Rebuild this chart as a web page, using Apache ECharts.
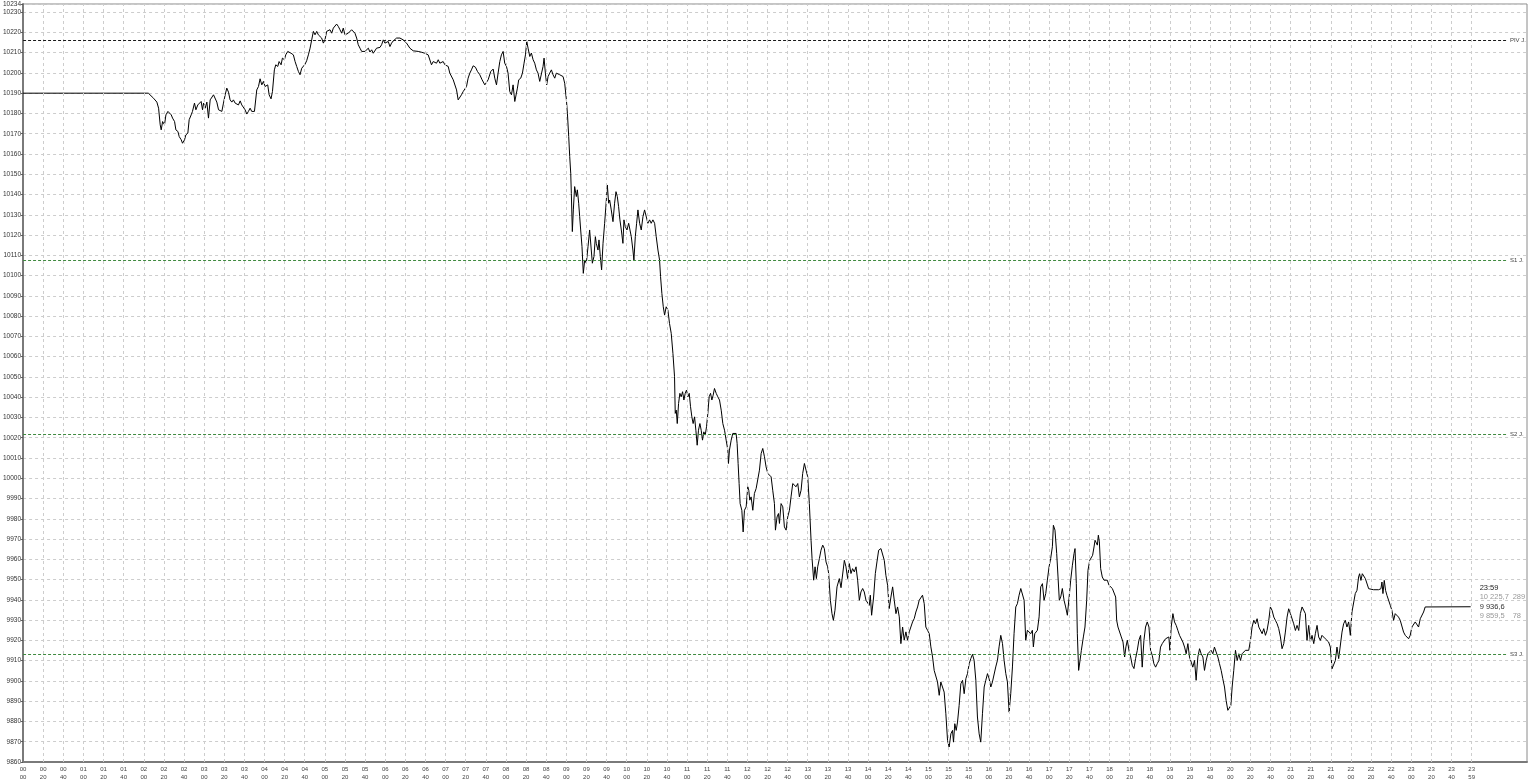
<!DOCTYPE html>
<html>
<head>
<meta charset="utf-8">
<script src="https://cdn.jsdelivr.net/npm/echarts@6/dist/echarts.min.js"></script>
<style>
html,body{margin:0;padding:0;background:#fff;}
#c{width:1530px;height:782px;}
</style>
</head>
<body>
<div id="c"></div>
<script>
// time of day in minutes after 00:00
const minutes = [
0,124.5,126.4,129.7,131.4,133.0,134.7,136.3,137.3,138.7,
140.6,142.0,144.0,145.3,147.3,148.6,150.6,151.9,153.9,155.2,
157.2,158.5,160.5,161.8,163.8,165.1,167.1,168.4,170.4,171.8,
173.7,175.1,177.0,178.4,179.4,181.0,182.7,184.3,186.0,187.6,
189.3,191.0,192.6,194.3,195.9,197.6,199.2,200.9,202.5,204.2,
205.8,207.5,209.1,210.8,212.5,214.1,215.8,217.4,219.1,220.7,
222.4,224.0,225.7,227.3,230.0,232.3,234.0,235.6,237.3,238.9,
240.6,243.2,244.6,246.5,247.9,249.8,251.2,253.2,254.5,256.5,
257.8,259.8,261.1,263.1,264.4,266.4,268.7,270.4,272.0,273.7,
275.3,277.0,278.6,280.3,281.9,283.6,285.3,286.9,288.6,290.2,
291.9,293.5,295.2,296.8,298.5,300.1,301.8,303.5,305.1,306.8,
308.4,310.1,311.7,313.4,315.0,316.7,318.3,320.0,321.7,323.3,
325.0,326.6,328.3,329.9,331.6,333.2,334.9,336.6,338.2,339.9,
341.5,343.2,344.8,346.5,348.1,349.8,351.4,353.1,354.8,356.4,
358.1,359.7,361.4,363.0,364.7,366.3,368.0,369.6,371.3,372.9,
374.6,376.3,377.9,379.6,381.2,382.9,384.5,386.2,387.8,389.5,
392.8,396.1,399.4,401.1,402.7,404.4,406.0,407.7,409.3,411.0,
412.7,414.3,416.0,417.6,419.3,420.9,422.6,424.2,425.9,427.6,
429.2,430.9,432.5,434.2,435.8,437.5,439.1,440.8,442.4,444.1,
445.7,447.4,449.7,451.7,454.0,456.3,459.0,460.6,462.3,464.9,
467.3,468.9,470.6,472.2,473.9,475.5,477.2,478.8,480.5,482.1,
483.8,485.5,487.1,488.8,489.8,491.4,492.7,494.7,496.4,498.0,
499.4,500.7,502.0,503.7,505.3,507.0,508.6,510.3,511.9,513.6,
515.2,516.9,517.9,519.2,520.5,521.9,523.5,525.2,526.8,528.5,
530.1,531.8,533.4,535.1,536.8,538.4,540.1,541.1,542.4,543.4,
544.4,545.0,546.0,547.0,548.3,550.0,551.0,552.3,553.3,554.3,
555.6,556.9,558.3,559.9,561.6,563.2,564.9,565.9,567.5,568.9,
569.8,571.5,572.5,573.8,575.1,576.5,578.1,579.8,580.8,582.1,
583.1,584.7,586.4,588.0,589.4,590.7,592.0,593.3,594.7,596.3,
597.3,598.6,600.3,602.0,603.3,604.6,606.2,607.2,608.6,609.9,
611.2,612.9,614.5,616.2,617.8,619.5,621.1,622.8,624.4,626.1,
627.8,629.4,631.1,632.7,633.7,635.0,636.4,637.7,639.3,641.0,
642.6,644.3,646.0,647.6,648.3,649.3,650.3,651.6,652.9,654.2,
655.6,656.9,658.2,659.5,660.9,662.2,663.5,664.8,666.1,667.5,
668.8,670.1,671.4,672.8,674.1,675.4,676.7,678.1,679.4,680.7,
682.0,683.4,684.7,686.0,687.3,689.0,690.6,692.3,694.0,695.6,
697.3,698.9,700.6,701.2,702.2,703.9,705.5,707.2,708.8,709.8,
710.8,711.8,712.8,714.5,715.8,717.1,718.8,720.4,721.4,722.4,
723.7,725.4,727.0,728.7,730.3,732.0,733.7,735.3,737.0,738.6,
740.3,741.9,743.6,745.2,746.9,747.9,749.5,750.9,751.9,753.5,
755.2,756.8,758.5,760.1,761.8,763.4,765.1,766.7,768.4,770.1,
771.7,773.4,775.0,776.7,778.3,780.0,781.6,783.3,784.3,785.9,
787.3,788.6,789.9,791.6,793.2,794.9,796.5,798.2,799.8,800.8,
802.5,804.1,805.5,807.1,809.1,811.4,813.1,814.7,816.4,818.0,
819.7,821.3,823.0,824.6,826.3,828.0,829.6,831.3,832.9,834.6,
836.2,837.9,839.5,841.2,842.2,843.5,845.5,847.2,848.8,850.5,
852.8,854.4,856.1,857.7,859.4,861.0,862.7,864.4,866.0,867.7,
869.3,871.0,872.6,874.3,875.9,877.6,879.2,880.9,882.6,884.2,
885.9,887.5,889.2,890.8,892.5,894.1,895.8,897.4,899.1,900.8,
902.4,904.1,905.7,907.4,909.0,910.7,912.3,914.0,915.6,917.3,
919.0,920.6,922.3,923.9,924.9,926.2,927.6,928.9,930.5,932.2,
933.9,935.5,937.2,938.8,940.5,942.1,943.8,945.4,947.1,948.7,
950.4,952.0,953.7,955.4,957.0,958.7,960.3,962.0,963.6,965.3,
966.9,968.6,970.2,971.9,973.6,975.2,976.9,978.5,980.2,981.8,
983.5,985.1,986.8,988.4,990.1,991.8,993.4,995.1,996.7,998.4,
1000.0,1001.7,1003.3,1004.3,1005.7,1007.0,1008.3,1010.0,1011.6,1013.3,
1014.9,1016.6,1018.2,1019.9,1021.5,1023.2,1024.2,1025.8,1027.5,1028.8,
1030.1,1031.5,1033.1,1034.8,1036.4,1038.1,1039.7,1041.4,1043.1,1044.7,
1045.7,1047.0,1048.0,1049.3,1050.7,1052.0,1054.0,1055.6,1057.3,1058.6,
1060.3,1061.9,1063.2,1064.6,1065.6,1066.6,1067.9,1068.9,1069.9,1071.2,
1072.8,1074.5,1076.2,1077.8,1079.5,1081.1,1082.8,1084.4,1086.1,1087.1,
1088.4,1090.1,1091.7,1093.4,1095.0,1096.3,1097.7,1099.3,1101.0,1102.6,
1104.3,1105.9,1107.6,1109.2,1110.9,1112.5,1114.2,1115.8,1117.5,1119.2,
1120.8,1122.5,1124.1,1125.8,1127.4,1129.1,1130.7,1132.4,1134.0,1135.7,
1137.4,1139.0,1140.0,1141.3,1143.0,1144.6,1146.3,1147.9,1149.6,1151.3,
1152.9,1154.6,1156.2,1157.9,1159.5,1161.2,1162.8,1164.5,1166.1,1167.8,
1169.5,1171.1,1172.8,1174.4,1176.1,1177.7,1179.4,1181.0,1182.7,1184.3,
1186.0,1187.7,1189.3,1191.0,1192.6,1194.3,1195.9,1197.6,1198.9,1200.6,
1201.9,1203.5,1205.2,1206.9,1208.5,1210.2,1211.8,1213.5,1215.1,1216.8,
1218.4,1220.1,1221.7,1223.4,1225.1,1226.7,1228.4,1230.0,1231.7,1233.3,
1235.0,1236.6,1238.3,1239.9,1241.6,1243.3,1244.9,1246.6,1248.2,1249.9,
1251.5,1253.2,1254.8,1256.5,1258.1,1259.8,1261.5,1263.1,1264.8,1266.4,
1268.1,1269.7,1271.4,1273.0,1274.7,1276.3,1278.0,1279.7,1281.3,1283.0,
1284.6,1286.3,1287.9,1289.6,1291.2,1292.9,1294.5,1296.2,1297.8,1299.5,
1301.2,1302.8,1304.5,1306.1,1307.8,1309.4,1311.1,1312.7,1314.4,1316.0,
1317.7,1319.4,1321.0,1322.7,1324.3,1326.0,1327.6,1328.6,1329.9,1331.3,
1332.6,1334.3,1335.9,1337.6,1342.5,1347.5,1349.8,1350.8,1351.8,1353.1,
1354.4,1355.8,1357.4,1359.1,1360.7,1362.4,1364.0,1365.7,1367.3,1369.0,
1370.7,1372.3,1374.0,1375.6,1377.3,1378.9,1380.6,1382.2,1383.9,1385.5,
1387.2,1388.9,1390.5,1392.2,1393.8,1395.5,1439
];
const prices = [
10190,10190,10189.2,10187.5,10188.4,10185.6,10182.6,10174.4,10171.9,10176.0,
10174.4,10179.3,10181.0,10181.8,10179.3,10177.7,10176.0,10171.9,10171.1,10168.6,
10167.0,10165.3,10167.0,10169.4,10170.3,10176.9,10179.3,10181.0,10185.1,10181.8,
10184.2,10183.4,10185.9,10181.8,10185.1,10182.6,10185.6,10177.7,10186.7,10185.9,
10189.2,10190.0,10185.6,10181.8,10182.6,10181.0,10185.1,10189.2,10192.5,10190.5,
10186.7,10185.6,10186.7,10185.1,10184.2,10184.2,10186.2,10184.2,10183.4,10181.8,
10179.7,10181.0,10182.6,10181.0,10181.0,10191.6,10193.3,10197.1,10194.1,10195.8,
10193.3,10194.1,10189.2,10187.2,10190.8,10201.5,10204.0,10203.2,10205.6,10204.0,
10207.3,10206.5,10208.9,10210.6,10211.4,10209.7,10208.9,10205.6,10203.2,10200.7,
10199.1,10202.3,10203.2,10204.3,10206.0,10208.9,10212.2,10216.3,10220.5,10218.8,
10220.5,10218.8,10219.6,10217.2,10214.7,10216.3,10220.5,10220.5,10221.3,10219.6,
10222.1,10222.9,10224.1,10222.9,10221.3,10219.6,10222.1,10218.8,10218.0,10219.6,
10220.5,10221.3,10221.8,10219.6,10217.2,10213.9,10212.2,10210.6,10211.4,10210.6,
10210.9,10212.2,10210.3,10211.4,10209.7,10210.6,10212.2,10211.4,10212.6,10213.9,
10216.3,10214.7,10213.9,10215.5,10213.0,10214.7,10215.8,10216.3,10217.2,10217.5,
10217.2,10216.3,10216.3,10215.5,10214.7,10213.9,10212.2,10211.4,10210.9,10210.6,
10210.6,10210.2,10209.7,10210.2,10208.9,10209.3,10204.0,10205.6,10206.5,10204.8,
10206.5,10204.8,10204.8,10205.6,10204.0,10204.8,10203.2,10199.9,10199.1,10196.6,
10195.8,10191.6,10186.7,10187.5,10189.2,10190.8,10191.1,10193.3,10197.4,10199.9,
10201.5,10203.5,10202.8,10200.7,10199.1,10196.6,10194.1,10194.9,10196.6,10200.7,
10201.9,10197.4,10194.1,10199.9,10205.6,10208.9,10210.6,10204.8,10203.2,10199.9,
10190.8,10189.2,10194.1,10185.9,10185.1,10192.5,10196.6,10197.4,10199.9,10204.8,
10208.9,10215.5,10212.2,10208.1,10209.8,10206.5,10204.8,10201.5,10199.9,10195.8,
10196.6,10203.2,10207.3,10199.9,10194.1,10198.2,10199.9,10201.5,10199.1,10197.4,
10199.9,10200.7,10199.1,10199.9,10198.2,10194.9,10186.7,10180.1,10168.6,10158.7,
10150.5,10140.6,10121.7,10132.4,10143.9,10139.0,10142.3,10135.7,10129.1,10122.5,
10114.3,10101.1,10107.7,10106.1,10114.3,10122.5,10123.3,10106.1,10109.4,10119.2,
10115.9,10112.6,10117.6,10109.4,10102.8,10115.9,10125.8,10137.3,10144.7,10135.7,
10137.3,10132.4,10126.6,10135.7,10141.4,10139.0,10134.0,10127.5,10122.5,10115.9,
10127.5,10124.2,10122.5,10125.8,10122.5,10119.2,10112.6,10107.7,10119.2,10125.8,
10132.4,10125.8,10122.5,10129.1,10132.4,10133.2,10125.8,10127.5,10125.8,10127.5,
10125.8,10119.2,10112.6,10107.7,10099.5,10091.2,10084.6,10080.5,10084.6,10083.0,
10076.4,10071.5,10061.6,10050.1,10032.0,10033.6,10027.0,10036.9,10041.9,10040.2,
10042.7,10038.6,10041.9,10043.5,10040.2,10041.9,10035.3,10030.3,10027.0,10030.3,
10023.7,10016.3,10023.7,10027.0,10023.7,10018.8,10022.9,10021.3,10025.4,10032.0,
10040.2,10041.9,10038.6,10041.0,10044.3,10041.9,10040.2,10038.6,10033.6,10027.0,
10023.7,10018.8,10013.9,10007.3,10013.9,10018.8,10022.1,10022.9,10022.1,10017.2,
10007.3,9997.4,9987.5,9984.2,9973.5,9984.2,9985.9,9995.8,9994.1,9989.2,
9990.8,9984.2,9992.5,9994.9,9995.8,10004.0,10012.2,10014.7,10010.6,10005.6,
10002.4,10003.2,10000.7,9994.1,9987.5,9974.4,9980.9,9982.6,9977.7,9987.5,
9985.9,9976.0,9974.4,9980.9,9984.2,9990.8,9997.4,9998.2,9995.8,9997.4,
9990.8,9994.1,10002.4,10007.3,10004.0,10000.7,9987.5,9969.4,9960.4,9949.7,
9956.3,9950.5,9956.3,9960.4,9964.5,9967.0,9965.3,9958.7,9956.3,9953.0,
9939.8,9933.2,9929.9,9934.9,9946.4,9950.5,9946.0,9946.0,9959.5,9956.3,
9950.5,9957.9,9953.0,9955.4,9953.8,9956.3,9949.7,9939.8,9943.9,9945.6,
9943.9,9939.8,9940.6,9937.3,9942.3,9932.4,9941.4,9953.0,9958.7,9964.5,
9965.3,9964.5,9959.5,9952.1,9947.2,9935.7,9941.4,9946.4,9939.8,9933.2,
9936.5,9931.6,9918.4,9926.6,9920.1,9924.2,9920.1,9924.2,9925.0,9929.1,
9930.8,9934.0,9936.5,9939.8,9940.6,9942.3,9938.1,9926.6,9925.0,9923.3,
9916.8,9911.8,9905.2,9904.4,9899.5,9892.9,9899.5,9900.3,9894.5,9883.8,
9870.6,9867.4,9873.9,9875.6,9869.8,9878.9,9875.6,9879.7,9887.9,9898.6,
9900.3,9893.7,9901.1,9903.6,9908.5,9911.0,9913.1,9910.2,9900.3,9882.2,
9873.9,9869.8,9883.8,9897.0,9900.3,9903.6,9901.1,9897.0,9899.5,9900.3,
9906.9,9910.2,9916.8,9922.5,9918.4,9910.2,9903.6,9899.5,9884.6,9893.7,
9906.9,9923.3,9936.5,9938.1,9942.3,9945.6,9944.7,9939.8,9920.1,9925.0,
9925.8,9923.3,9925.0,9916.8,9923.3,9924.2,9925.0,9931.6,9946.4,9948.0,
9939.8,9943.1,9949.7,9956.3,9960.4,9966.2,9976.8,9974.4,9962.8,9951.3,
9939.8,9941.4,9945.6,9939.8,9936.5,9932.4,9940.6,9949.7,9957.1,9962.8,
9965.3,9948.0,9923.3,9905.2,9910.2,9915.1,9921.7,9926.6,9939.8,9954.6,
9959.5,9958.7,9962.0,9966.1,9969.4,9969.4,9967.0,9971.9,9968.6,9955.4,
9951.3,9949.7,9950.5,9949.7,9947.2,9946.4,9945.6,9946.4,9941.4,9929.9,
9926.6,9927.4,9921.7,9919.2,9911.8,9916.8,9920.1,9915.1,9911.8,9907.7,
9906.1,9911.0,9915.1,9920.1,9922.5,9906.8,9920.0,9926.6,9929.1,9926.6,
9915.1,9912.6,9908.5,9906.8,9908.5,9910.1,9916.7,9918.4,9919.2,9920.8,
9920.0,9921.7,9915.1,9926.6,9933.2,9929.1,9927.4,9925.0,9922.5,9921.7,
9919.2,9916.7,9913.4,9918.4,9911.8,9909.3,9906.8,9910.1,9900.3,9911.8,
9915.9,9913.4,9911.8,9905.2,9910.1,9913.4,9914.3,9915.1,9913.4,9916.7,
9917.5,9911.8,9908.5,9905.2,9901.1,9897.0,9890.4,9885.5,9884.6,9887.9,
9897.0,9905.2,9915.1,9910.1,9913.4,9910.1,9913.4,9914.3,9915.1,9914.3,
9915.1,9920.0,9926.6,9929.9,9928.2,9930.7,9926.6,9927.4,9923.3,9925.8,
9922.5,9924.9,9929.9,9936.5,9934.8,9931.5,9929.9,9928.2,9925.8,9921.7,
9915.9,9918.4,9924.1,9931.5,9935.6,9933.2,9932.4,9928.2,9924.9,9927.4,
9924.9,9933.2,9936.5,9937.3,9933.2,9920.0,9927.4,9919.2,9922.5,9918.4,
9923.3,9927.4,9921.7,9920.0,9922.5,9921.7,9920.8,9921.7,9919.2,9916.7,
9906.0,9906.8,9910.1,9916.7,9911.0,9911.8,9924.1,9928.2,9929.9,9926.6,
9929.1,9922.5,9934.0,9934.8,9943.1,9944.7,9951.3,9952.9,9949.6,9952.9,
9952.1,9950.5,9949.6,9945.5,9945.0,9945.0,9945.5,9948.8,9943.1,9949.6,
9944.7,9942.2,9941.4,9937.3,9934.8,9929.9,9933.2,9932.4,9931.5,9929.9,
9929.1,9924.1,9922.5,9921.7,9920.8,9922.5,9926.6,9927.4,9929.1,9929.9,
9926.6,9930.7,9931.5,9934.0,9936.5,9936.6,9936.6
];

// pivot / support levels
const levelNames = ['PIV J.', 'S1 J.', 'S2 J.', 'S3 J.'];
const levelValues = [10216.3, 10107.7, 10021.8, 9913.1];

// axis ranges and ticks
const yMin = 9860, yMax = 10234, yStep = 10;
const xMin = 0, xMax = 1495, xStep = 20, dayEnd = 1440;
const lastLabelMinute = 1439;

// info box at the right of the last price
const infoTime = '23:59';
const infoHigh = ['10 225,7', '289'];
const infoLast = '9 936,6';
const infoLow = ['9 859,5', '78'];

const levelEnd = 1476;
const levelColors = ['#1a1a1a', '#3f8a3f', '#3f8a3f', '#3f8a3f'];

const pad2 = n => String(n).padStart(2, '0');
function fmtX(v) {
  if (v > dayEnd) return '';
  const t = v === dayEnd ? lastLabelMinute : v;
  return pad2(Math.floor(t / 60)) + '\n' + pad2(Math.round(t % 60));
}

const verticalTicks = [];
for (let m = xMin + xStep; m <= dayEnd; m += xStep) verticalTicks.push(m);

const priceData = minutes.map((m, i) => [m, prices[i]]);
const lastIdx = minutes.length - 1;

const chart = echarts.init(document.getElementById('c'));
chart.setOption({
  animation: false,
  backgroundColor: '#ffffff',
  grid: { left: 21, right: 3, top: 4, bottom: 20, show: true, borderColor: '#8a8a8a', borderWidth: 1 },
  xAxis: {
    type: 'value', min: xMin, max: xMax, interval: xStep,
    axisLine: { show: true, lineStyle: { color: '#7a7a7a', width: 2 } },
    axisTick: { show: false },
    splitLine: { show: false },
    axisLabel: {
      formatter: fmtX, fontSize: 6, lineHeight: 8, color: '#444',
      margin: 3, fontFamily: 'Liberation Sans', showMinLabel: true, showMaxLabel: true
    }
  },
  yAxis: {
    type: 'value', min: yMin, max: yMax, interval: yStep,
    axisLine: { show: true, lineStyle: { color: '#7a7a7a', width: 2 } },
    axisTick: { show: true, length: 2, lineStyle: { color: '#555' } },
    axisLabel: {
      formatter: v => String(v), fontSize: 6.5, color: '#333', margin: 2,
      fontFamily: 'Liberation Sans', showMaxLabel: true
    },
    splitLine: { show: true, lineStyle: { color: '#cdcdcd', type: [3, 3], width: 1 } }
  },
  series: [
    {
      type: 'line',
      data: [[xMin, yMin]],
      symbol: 'none',
      lineStyle: { width: 0 },
      silent: true,
      z: 1,
      markLine: {
        silent: true,
        symbol: 'none',
        label: { show: false },
        lineStyle: { color: '#cdcdcd', type: [3, 3], width: 1 },
        data: verticalTicks.map(m => ({ xAxis: m }))
      }
    },
    {
      type: 'line',
      data: priceData,
      symbol: 'none',
      showSymbol: false,
      lineStyle: { color: '#000', width: 1 },
      z: 3,
      markLine: {
        silent: true,
        symbol: 'none',
        lineStyle: { type: [3, 2], width: 1 },
        label: {
          show: true, position: 'end', distance: 2,
          formatter: p => p.name, fontSize: 6, color: '#444', fontFamily: 'Liberation Sans'
        },
        data: levelValues.map((v, i) => [
          { coord: [xMin, v], name: levelNames[i], lineStyle: { color: levelColors[i] } },
          { coord: [levelEnd, v] }
        ])
      },
      markPoint: {
        silent: true,
        symbol: 'circle',
        symbolSize: 0,
        data: [{ coord: [minutes[lastIdx], prices[lastIdx]] }],
        label: {
          show: true, position: 'right', distance: 9, offset: [0, -5],
          fontFamily: 'Liberation Sans',
          formatter: '{t|' + infoTime + '}\n{g|' + infoHigh[0] + '}{n|' + infoHigh[1] + '}\n{d|' + infoLast + '}\n{g|' + infoLow[0] + '}{n|' + infoLow[1] + '}',
          rich: {
            t: { fontSize: 7.5, color: '#222', lineHeight: 9.5, fontFamily: 'Liberation Sans' },
            g: { fontSize: 7.5, color: '#999', lineHeight: 9.5, width: 33, fontFamily: 'Liberation Sans' },
            n: { fontSize: 7.5, color: '#999', lineHeight: 9.5, fontFamily: 'Liberation Sans' },
            d: { fontSize: 7.5, color: '#333', lineHeight: 9.5, fontFamily: 'Liberation Sans' }
          }
        }
      }
    }
  ]
});
</script>
</body>
</html>
